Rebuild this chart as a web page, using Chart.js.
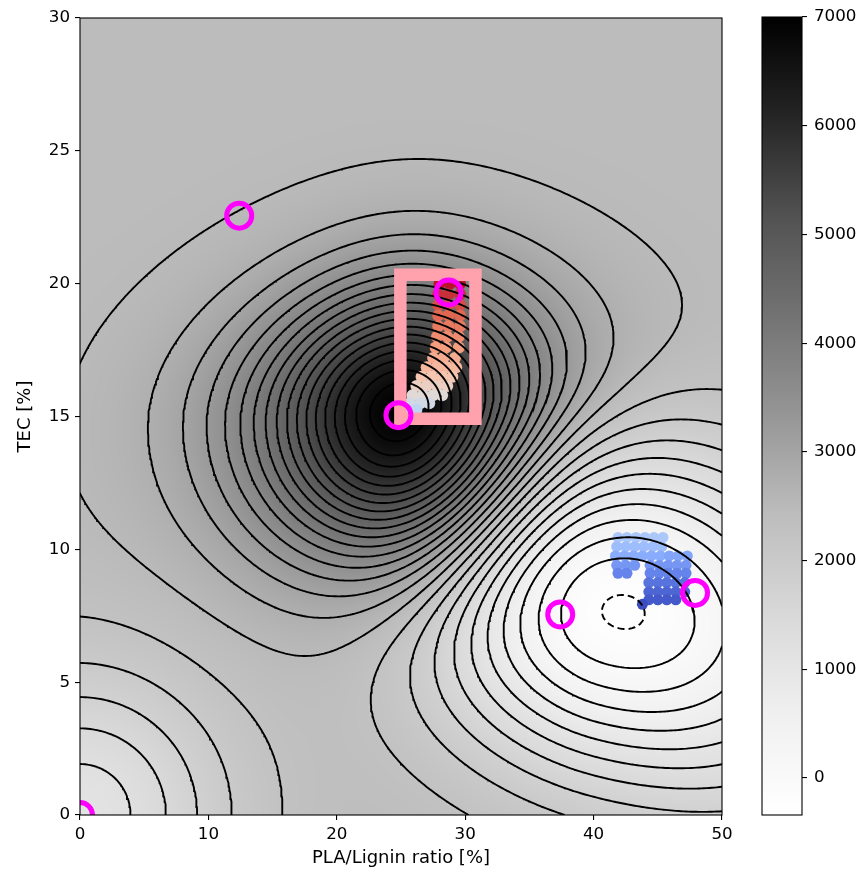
<!DOCTYPE html>
<html>
<head>
<meta charset="utf-8">
<script src="https://cdn.jsdelivr.net/npm/chart.js@4.4.1/dist/chart.umd.min.js"></script>
<style>
html, body { margin: 0; padding: 0; background: #fff; }
#wrap { position: relative; width: 868px; height: 875px; overflow: hidden; }
#main { position: absolute; left: 0; top: 0; }
#bar { position: absolute; left: 740px; top: 0; }
</style>
</head>
<body>
<div id="wrap">
  <canvas id="main" width="868" height="875"></canvas>
  <canvas id="bar" width="128" height="875"></canvas>
</div>
<script>
// ---- axes ----
const xRange = [0, 50];
const yRange = [0, 30];
const xTicks = [0, 10, 20, 30, 40, 50];
const yTicks = [0, 5, 10, 15, 20, 25, 30];
const colorRange = [-340, 7000];
const colorTicks = [0, 1000, 2000, 3000, 4000, 5000, 6000, 7000];
const contourLevels = [-250, 0, 250, 500, 750, 1000, 1250, 1500, 1750, 2000, 2250,
  2500, 2750, 3000, 3250, 3500, 3750, 4000, 4250, 4500, 4750, 5000, 5250, 5500,
  5750, 6000, 6250, 6500, 6750];

// ---- response surface: background level plus three bumps (one peak, two basins) ----
const baseLevel = 2431.5;
const bumpX = [25.53, 40.60, 0.0];
const bumpY = [14.95, 8.23, 0.0];
const bumpHeight = [5069, -2833, -1340];
const bumpAngle = [1.36, -7.38, 0];
const bumpSpreadLeft = [8.53, 18.70, 11.1];
const bumpSpreadRight = [8.4, 23.06, 11.1];
const bumpSpreadDown = [5.5, 8.05, 5.42];
const bumpSpreadUp = [4.7, 8.01, 5.42];
const bumpPowerU = [1.4, 2.8, 2.0];
const bumpPowerV = [2.0, 2.8, 2.0];

// ---- sampled runs (coloured by progress) ----
const warmX = [28.0, 28.8, 29.6, 27.9, 28.7, 29.6, 27.9, 28.7, 29.6, 27.9, 28.7, 29.6,
  27.9, 28.7, 29.6, 27.8, 28.6, 29.5, 27.7, 28.5, 29.5, 27.5, 28.3, 29.2,
  27.0, 27.8, 28.6, 29.3, 26.6, 27.4, 28.2, 29.0, 26.2, 27.0, 27.8, 28.6,
  25.9, 26.7, 27.5, 28.2, 25.7, 26.5, 27.2, 25.5, 26.2];
const warmY = [20.0, 20.0, 20.0, 19.6, 19.6, 19.6, 19.2, 19.2, 19.2, 18.8, 18.8, 18.8,
  18.4, 18.4, 18.4, 18.0, 18.0, 18.0, 17.6, 17.6, 17.6, 17.2, 17.2, 17.2,
  16.85, 16.85, 16.85, 16.85, 16.5, 16.5, 16.5, 16.5, 16.15, 16.15, 16.15, 16.15,
  15.8, 15.8, 15.8, 15.8, 15.5, 15.5, 15.5, 15.25, 15.25];
const warmC = [0.98, 0.98, 0.98, 0.94, 0.94, 0.94, 0.90, 0.90, 0.90, 0.86, 0.86, 0.86,
  0.82, 0.82, 0.82, 0.78, 0.78, 0.78, 0.74, 0.74, 0.74, 0.70, 0.70, 0.70,
  0.66, 0.66, 0.66, 0.66, 0.62, 0.62, 0.62, 0.62, 0.57, 0.57, 0.57, 0.57,
  0.52, 0.52, 0.52, 0.52, 0.46, 0.46, 0.46, 0.40, 0.40];

const coolX = [41.9, 42.6, 43.3, 44.0, 44.7, 45.4,
  41.8, 42.5, 43.2, 43.9, 44.6, 45.3,
  41.7, 42.4, 43.1, 43.8, 44.5, 45.2, 45.9, 46.6, 47.3,
  41.8, 42.5, 43.2, 44.4, 45.1, 45.8, 46.5, 47.2,
  41.9, 42.6, 44.4, 45.1, 45.8, 46.5, 47.2,
  44.3, 45.0, 45.7, 46.4, 47.1,
  44.3, 45.0, 45.7, 46.4, 47.1,
  44.3, 45.0, 45.7, 46.4,
  43.8];
const coolY = [10.45, 10.45, 10.45, 10.45, 10.45, 10.45,
  10.1, 10.1, 10.1, 10.1, 10.1, 10.1,
  9.75, 9.75, 9.75, 9.75, 9.75, 9.75, 9.75, 9.75, 9.75,
  9.4, 9.4, 9.4, 9.4, 9.4, 9.4, 9.4, 9.4,
  9.1, 9.1, 9.1, 9.1, 9.1, 9.1, 9.1,
  8.75, 8.75, 8.75, 8.75, 8.75,
  8.4, 8.4, 8.4, 8.4, 8.4,
  8.1, 8.1, 8.1, 8.1,
  7.93];
const coolC = [0.34, 0.34, 0.34, 0.34, 0.34, 0.34,
  0.30, 0.30, 0.30, 0.30, 0.30, 0.30,
  0.24, 0.24, 0.24, 0.24, 0.24, 0.24, 0.22, 0.22, 0.22,
  0.18, 0.18, 0.18, 0.18, 0.18, 0.18, 0.18, 0.18,
  0.13, 0.13, 0.13, 0.13, 0.13, 0.13, 0.13,
  0.09, 0.09, 0.09, 0.09, 0.09,
  0.06, 0.06, 0.06, 0.06, 0.06,
  0.03, 0.03, 0.03, 0.03,
  0.0];

// ---- highlighted design points and search window ----
const markX = [12.4, 28.7, 24.8, 37.4, 47.9, 0.0];
const markY = [22.56, 19.67, 15.05, 7.55, 8.36, 0.0];
const boxX = [24.95, 30.8];
const boxY = [14.92, 20.34];
const flagX = [40.0];
const flagY = [31.2];

// ---- colour maps ----
const GREYS = [[255,255,255],[240,240,240],[217,217,217],[189,189,189],[150,150,150],
  [115,115,115],[82,82,82],[37,37,37],[0,0,0]];
const COOLWARM = [[59,76,192],[98,130,234],[141,176,254],[184,208,249],[221,221,221],
  [245,196,173],[244,154,123],[222,96,77],[180,4,38]];
function sampleMap(stops, t) {
  t = Math.min(1, Math.max(0, t));
  const f = t * (stops.length - 1);
  const i = Math.min(stops.length - 2, Math.floor(f));
  const r = f - i;
  const a = stops[i], b = stops[i + 1];
  return [a[0] + (b[0] - a[0]) * r, a[1] + (b[1] - a[1]) * r, a[2] + (b[2] - a[2]) * r];
}
const rgb = (c) => `rgb(${Math.round(c[0])},${Math.round(c[1])},${Math.round(c[2])})`;
const greyAt = (v) => sampleMap(GREYS, (v - colorRange[0]) / (colorRange[1] - colorRange[0]));

// smooth profile: quadratic near the centre, power-law further out
const falloff = (d, s, p) => Math.pow(1 + (d / s) * (d / s), p / 2) - 1;

function fieldAt(x, y) {
  let v = baseLevel;
  for (let k = 0; k < bumpX.length; k++) {
    const dx = x - bumpX[k], dy = y - bumpY[k];
    const t = bumpAngle[k] * Math.PI / 180;
    const u = dx * Math.cos(t) + dy * Math.sin(t);
    const w = -dx * Math.sin(t) + dy * Math.cos(t);
    const q = falloff(u, u < 0 ? bumpSpreadLeft[k] : bumpSpreadRight[k], bumpPowerU[k]) +
              falloff(w, w < 0 ? bumpSpreadDown[k] : bumpSpreadUp[k], bumpPowerV[k]);
    v += bumpHeight[k] * Math.exp(-q);
  }
  return v;
}

// ---- contour tracing (marching squares on a regular grid) ----
const NX = 251, NY = 301;
const gx = [], gy = [];
for (let i = 0; i < NX; i++) gx.push(xRange[0] + (xRange[1] - xRange[0]) * i / (NX - 1));
for (let j = 0; j < NY; j++) gy.push(yRange[0] + (yRange[1] - yRange[0]) * j / (NY - 1));
const grid = new Float64Array(NX * NY);
for (let j = 0; j < NY; j++) for (let i = 0; i < NX; i++) grid[j * NX + i] = fieldAt(gx[i], gy[j]);

function traceLevel(level) {
  const segs = [];
  for (let j = 0; j < NY - 1; j++) {
    for (let i = 0; i < NX - 1; i++) {
      const a = grid[j * NX + i], b = grid[j * NX + i + 1];
      const c = grid[(j + 1) * NX + i + 1], d = grid[(j + 1) * NX + i];
      const A = a > level, B = b > level, C = c > level, D = d > level;
      const idx = (A ? 1 : 0) | (B ? 2 : 0) | (C ? 4 : 0) | (D ? 8 : 0);
      if (idx === 0 || idx === 15) continue;
      const E = (e) => {
        if (e === 0) return ['h' + i + '_' + j, gx[i] + (level - a) / (b - a) * (gx[i + 1] - gx[i]), gy[j]];
        if (e === 1) return ['v' + (i + 1) + '_' + j, gx[i + 1], gy[j] + (level - b) / (c - b) * (gy[j + 1] - gy[j])];
        if (e === 2) return ['h' + i + '_' + (j + 1), gx[i] + (level - d) / (c - d) * (gx[i + 1] - gx[i]), gy[j + 1]];
        return ['v' + i + '_' + j, gx[i], gy[j] + (level - a) / (d - a) * (gy[j + 1] - gy[j])];
      };
      const cross = [];
      if (A !== B) cross.push(0);
      if (B !== C) cross.push(1);
      if (D !== C) cross.push(2);
      if (A !== D) cross.push(3);
      if (cross.length === 2) {
        segs.push([E(cross[0]), E(cross[1])]);
      } else {
        const mid = (a + b + c + d) / 4 > level;
        const joinAC = (idx === 5) === mid;
        if (joinAC) { segs.push([E(0), E(1)]); segs.push([E(2), E(3)]); }
        else { segs.push([E(3), E(0)]); segs.push([E(1), E(2)]); }
      }
    }
  }
  const byKey = new Map();
  segs.forEach((s, n) => s.forEach(p => {
    if (!byKey.has(p[0])) byKey.set(p[0], []);
    byKey.get(p[0]).push(n);
  }));
  const used = new Uint8Array(segs.length);
  const walk = (start) => {
    const out = [];
    let tip = start;
    for (;;) {
      let next = -1;
      for (const m of byKey.get(tip[0])) if (!used[m]) { next = m; break; }
      if (next < 0) break;
      used[next] = 1;
      const s = segs[next];
      tip = s[0][0] === tip[0] ? s[1] : s[0];
      out.push(tip);
    }
    return out;
  };
  const lines = [];
  for (let n = 0; n < segs.length; n++) {
    if (used[n]) continue;
    used[n] = 1;
    const fwd = walk(segs[n][1]);
    const back = walk(segs[n][0]);
    const chain = back.reverse().concat([segs[n][0], segs[n][1]], fwd);
    lines.push(chain.map(p => ({ x: p[1], y: p[2] })));
  }
  return lines;
}

// ---- datasets ----
const FONT = { family: 'DejaVu Sans', size: 16.7 };
const TITLE_FONT = { family: 'DejaVu Sans', size: 18 };
const datasets = [];

datasets.push({
  label: 'marks', data: markX.map((x, i) => ({ x, y: markY[i] })),
  pointRadius: 12.5, pointHoverRadius: 12.5, borderWidth: 5, borderColor: '#ff00ff',
  backgroundColor: 'rgba(0,0,0,0)', showLine: false, order: 0, clip: 0
});
datasets.push({
  label: 'flag', data: flagX.map((x, i) => ({ x, y: flagY[i] })),
  pointRadius: 18, pointHoverRadius: 18, borderWidth: 0, backgroundColor: '#ff4f6e',
  showLine: false, order: 0, clip: false
});
datasets.push({
  label: 'window',
  data: [
    { x: (boxX[0] + boxX[1]) / 2, y: boxY[0] }, { x: boxX[1], y: boxY[0] },
    { x: boxX[1], y: boxY[1] }, { x: boxX[0], y: boxY[1] },
    { x: boxX[0], y: boxY[0] }, { x: (boxX[0] + boxX[1]) / 2, y: boxY[0] }
  ],
  showLine: true, pointRadius: 0, borderColor: '#ffa2ad', borderWidth: 12.5,
  borderJoinStyle: 'miter', order: 1, clip: false
});
contourLevels.forEach(level => {
  traceLevel(level).forEach(line => {
    datasets.push({
      label: 'c' + level, data: line, showLine: true, pointRadius: 0, pointHoverRadius: 0,
      borderColor: '#000', borderWidth: 1.9, borderDash: level < 0 ? [7, 4] : [],
      order: 2, clip: 0, parsing: false, normalized: true
    });
  });
});
datasets.push({
  label: 'warm run', data: warmX.map((x, i) => ({ x, y: warmY[i] })),
  pointRadius: 6, pointHoverRadius: 6, borderWidth: 0,
  backgroundColor: warmC.map(c => rgb(sampleMap(COOLWARM, c))), order: 3, clip: 0
});
datasets.push({
  label: 'cool run', data: coolX.map((x, i) => ({ x, y: coolY[i] })),
  pointRadius: 5.5, pointHoverRadius: 5.5, borderWidth: 0,
  backgroundColor: coolC.map(c => rgb(sampleMap(COOLWARM, c))), order: 3, clip: 0
});

// ---- plugins ----
const surfacePlugin = {
  id: 'surface',
  beforeDatasetsDraw(chart) {
    const { ctx, scales: { x, y } } = chart;
    const l = Math.round(x.getPixelForValue(xRange[0])), r = Math.round(x.getPixelForValue(xRange[1]));
    const t = Math.round(y.getPixelForValue(yRange[1])), b = Math.round(y.getPixelForValue(yRange[0]));
    const w = r - l, h = b - t;
    if (!this.img) {
      const off = document.createElement('canvas');
      off.width = w; off.height = h;
      const octx = off.getContext('2d');
      const im = octx.createImageData(w, h);
      const xv = [];
      for (let i = 0; i < w; i++) xv.push(x.getValueForPixel(l + i + 0.5));
      for (let j = 0; j < h; j++) {
        const yv = y.getValueForPixel(t + j + 0.5);
        for (let i = 0; i < w; i++) {
          const c = greyAt(fieldAt(xv[i], yv));
          const k = (j * w + i) * 4;
          im.data[k] = c[0]; im.data[k + 1] = c[1]; im.data[k + 2] = c[2]; im.data[k + 3] = 255;
        }
      }
      octx.putImageData(im, 0, 0);
      this.img = off;
    }
    ctx.drawImage(this.img, l, t);
  }
};
const framePlugin = {
  id: 'frame',
  afterDatasetsDraw(chart) {
    const { ctx, chartArea: a } = chart;
    ctx.save();
    ctx.strokeStyle = '#000';
    ctx.lineWidth = 1.1;
    ctx.strokeRect(a.left, a.top, a.right - a.left, a.bottom - a.top);
    ctx.restore();
  }
};

const tickGrid = { display: true, drawOnChartArea: false, drawTicks: true, tickLength: 5, color: '#000', lineWidth: 1.1 };

new Chart(document.getElementById('main'), {
  type: 'scatter',
  data: { datasets },
  options: {
    responsive: false, animation: false, devicePixelRatio: 1, events: [],
    layout: { padding: { left: 0, right: 146, top: 17, bottom: 0 } },
    plugins: { legend: { display: false }, tooltip: { enabled: false } },
    scales: {
      x: {
        type: 'linear', min: xRange[0], max: xRange[1],
        afterBuildTicks: s => { s.ticks = xTicks.map(v => ({ value: v })); },
        afterFit: s => { s.height = 60; },
        grid: tickGrid, border: { display: false },
        ticks: { padding: 5, color: '#000', font: FONT, maxRotation: 0, callback: v => String(v) },
        title: { display: true, text: 'PLA/Lignin ratio [%]', color: '#000', font: TITLE_FONT, padding: { top: 0, bottom: 6 } }
      },
      y: {
        type: 'linear', min: yRange[0], max: yRange[1],
        afterBuildTicks: s => { s.ticks = yTicks.map(v => ({ value: v })); },
        afterFit: s => { s.width = 80; },
        grid: tickGrid, border: { display: false },
        ticks: { padding: 5, color: '#000', font: FONT, callback: v => String(v) },
        title: { display: true, text: 'TEC [%]', color: '#000', font: TITLE_FONT, padding: { top: 15, bottom: 0 } }
      }
    }
  },
  plugins: [surfacePlugin, framePlugin]
});

// ---- colour bar ----
const barPlugin = {
  id: 'bar',
  beforeDatasetsDraw(chart) {
    const { ctx, chartArea: a, scales: { y } } = chart;
    for (let p = Math.floor(a.top); p < Math.ceil(a.bottom); p++) {
      ctx.fillStyle = rgb(greyAt(y.getValueForPixel(p + 0.5)));
      ctx.fillRect(a.left, p, a.right - a.left, 1);
    }
    ctx.save();
    ctx.strokeStyle = '#000';
    ctx.lineWidth = 1.1;
    ctx.strokeRect(a.left, a.top, a.right - a.left, a.bottom - a.top);
    ctx.restore();
  }
};
new Chart(document.getElementById('bar'), {
  type: 'scatter',
  data: { datasets: [{ data: [] }] },
  options: {
    responsive: false, animation: false, devicePixelRatio: 1, events: [],
    layout: { padding: { left: 22, right: 0, top: 17, bottom: 60 } },
    plugins: { legend: { display: false }, tooltip: { enabled: false } },
    scales: {
      x: { display: false, min: 0, max: 1 },
      y: {
        position: 'right', min: colorRange[0], max: colorRange[1],
        afterBuildTicks: s => { s.ticks = colorTicks.map(v => ({ value: v })); },
        afterFit: s => { s.width = 66; },
        grid: tickGrid, border: { display: false },
        ticks: { padding: 7, color: '#000', font: FONT, callback: v => String(v) }
      }
    }
  },
  plugins: [barPlugin]
});
</script>
</body>
</html>
